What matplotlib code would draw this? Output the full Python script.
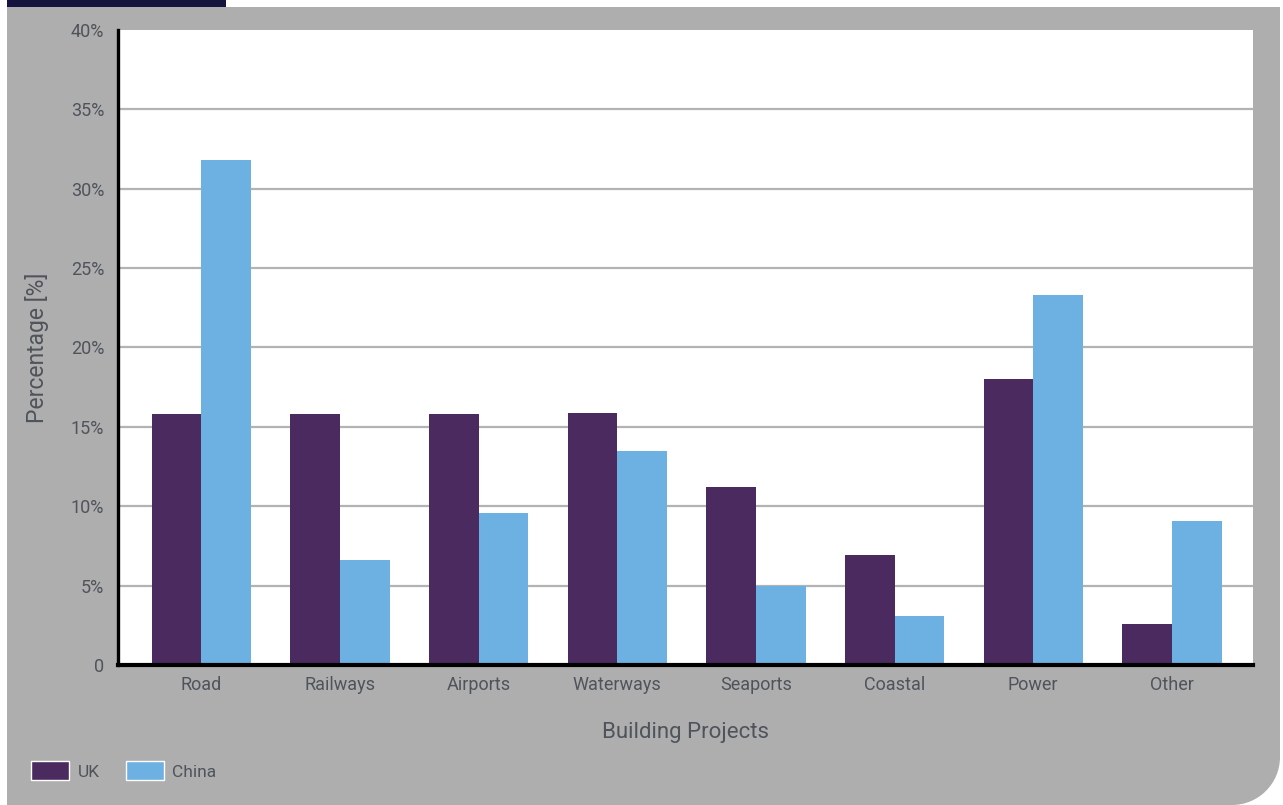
import matplotlib
matplotlib.use("Agg")
import matplotlib.pyplot as plt
import numpy as np
from matplotlib.path import Path
from matplotlib.patches import PathPatch, Rectangle, Patch

categories = ["Road", "Railways", "Airports", "Waterways", "Seaports", "Coastal", "Power", "Other"]
uk = [15.8, 15.8, 15.8, 15.9, 11.2, 6.9, 18.0, 2.6]
china = [31.8, 6.6, 9.6, 13.5, 5.0, 3.1, 23.3, 9.1]
yticks = [0, 5, 10, 15, 20, 25, 30, 35, 40]
ytick_labels = ["0", "5%", "10%", "15%", "20%", "25%", "30%", "35%", "40%"]

UK_COLOR = "#4B2A60"
CHINA_COLOR = "#6CB1E2"
PANEL = "#AEAEAE"
TEXT = "#4F545B"

plt.rcParams['font.family'] = ['Roboto', 'DejaVu Sans']

W, H = 1283, 805
fig = plt.figure(figsize=(W / 100, H / 100), dpi=100, facecolor="white")

def fx(x):
    return x / W

def fy(y):
    return 1 - y / H

r = 48
x0, x1, y0, y1 = 7, 1280, 7, 805
k = 0.5523
verts = [
    (fx(x0), fy(y0)),
    (fx(x1), fy(y0)),
    (fx(x1), fy(y1 - r)),
    (fx(x1), fy(y1 - r + r * k)),
    (fx(x1 - r + r * k), fy(y1)),
    (fx(x1 - r), fy(y1)),
    (fx(x0), fy(y1)),
    (fx(x0), fy(y0)),
]
codes = [Path.MOVETO, Path.LINETO, Path.LINETO, Path.CURVE4, Path.CURVE4, Path.CURVE4,
         Path.LINETO, Path.CLOSEPOLY]
fig.patches.append(PathPatch(Path(verts, codes), transform=fig.transFigure,
                             facecolor=PANEL, edgecolor="none", zorder=-10))
fig.patches.append(Rectangle((fx(7), fy(7)), fx(226) - fx(7), 7 / H, transform=fig.transFigure,
                             facecolor="#15143E", edgecolor="none", zorder=-10))

ax = fig.add_axes([118 / W, (H - 665) / H, (1253 - 118) / W, (665 - 30) / H])
ax.set_zorder(2)
ax.set_facecolor("white")

x = np.arange(len(categories))
w = 0.358
ax.bar(x - w / 2, uk, width=w, color=UK_COLOR, zorder=3, label="UK")
ax.bar(x + w / 2, china, width=w, color=CHINA_COLOR, zorder=3, label="China")

ax.set_xlim(-0.6, len(categories) - 0.415)
ax.set_ylim(0, 40)
ax.set_yticks(yticks)
ax.set_yticklabels(ytick_labels)
ax.set_xticks(x)
ax.set_xticklabels(categories)
ax.tick_params(axis="both", length=0, labelsize=13, labelcolor=TEXT)
ax.tick_params(axis="y", pad=10)
ax.tick_params(axis="x", pad=8)

for yv in yticks[1:-1]:
    ax.axhline(yv, color="#B3B3B3", lw=1.6, zorder=1)

for s in ["top", "right"]:
    ax.spines[s].set_visible(False)
ax.spines["left"].set_linewidth(2.4)
ax.spines["left"].set_color("black")
ax.spines["bottom"].set_linewidth(3.0)
ax.spines["bottom"].set_color("black")
ax.spines["left"].set_zorder(5)
ax.spines["bottom"].set_zorder(5)

ax.set_xlabel("Building Projects", fontsize=16, color=TEXT, labelpad=20)
ax.set_ylabel("Percentage [%]", fontsize=16.5, color=TEXT, labelpad=16)

handles = [Patch(facecolor=UK_COLOR, edgecolor="white", linewidth=1, label="UK"),
           Patch(facecolor=CHINA_COLOR, edgecolor="white", linewidth=1, label="China")]
leg = fig.legend(handles=handles, loc="lower left", bbox_to_anchor=(15 / W, 9 / H), ncol=2,
                 frameon=False, fontsize=12.5, handlelength=2.2, handleheight=1.3,
                 handletextpad=0.5, columnspacing=1.5)
for t in leg.get_texts():
    t.set_color(TEXT)

fig.savefig("out.png", dpi=100, facecolor="white")
